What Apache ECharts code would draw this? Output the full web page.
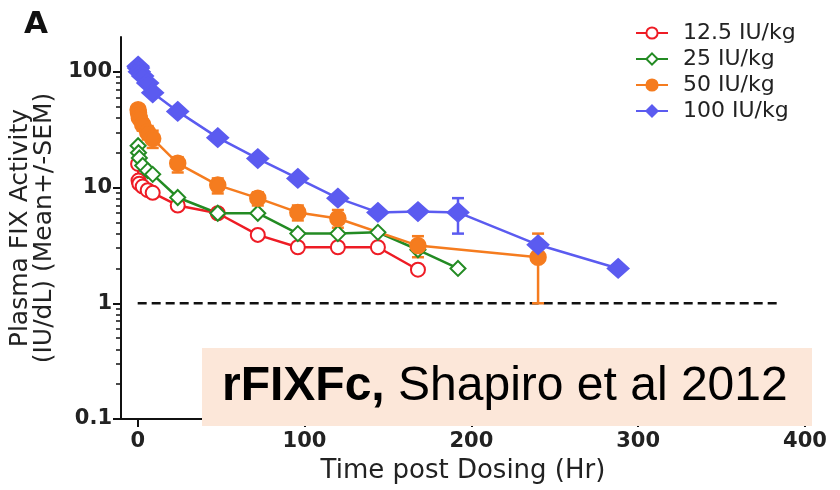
<!DOCTYPE html>
<html>
<head>
<meta charset="utf-8">
<script src="https://cdn.jsdelivr.net/npm/echarts@6/dist/echarts.min.js"></script>
<style>
  html, body { margin: 0; padding: 0; background: #fff; }
  #main { width: 840px; height: 490px; }
</style>
</head>
<body>
<div id="main"></div>
<script>
// 剂量组
const doseNames = ['12.5 IU/kg', '25 IU/kg', '50 IU/kg', '100 IU/kg']

// 12.5 IU/kg
const redTimes = [0.25, 0.5, 1, 3, 6, 9, 24, 48, 72, 96, 120, 144, 168]
const redValues = [16, 11.5, 10.8, 10.2, 9.5, 9, 7, 6, 3.9, 3.05, 3.05, 3.05, 1.95]

// 25 IU/kg
const greenTimes = [0.25, 0.5, 1, 3, 6, 9, 24, 48, 72, 96, 120, 144, 168, 192]
const greenValues = [23, 20, 18, 15.5, 14, 13, 8.2, 6, 6, 4, 4, 4.1, 2.9, 2]

// 50 IU/kg (带误差)
const orangeTimes = [0.25, 0.5, 1, 3, 6, 9, 24, 48, 72, 96, 120, 168, 240]
const orangeValues = [47, 44, 40, 35, 30, 26.5, 16.2, 10.5, 8.1, 6.1, 5.4, 3.15, 2.5]
const orangeLow = [44, 41, 36, 31, 26, 22, 13.5, 8.9, 7.0, 5.2, 4.5, 2.5, 1.0]
const orangeHigh = [50, 47, 44, 39, 34, 31, 18.3, 12, 9.1, 7.0, 6.4, 3.8, 4.0]

// 100 IU/kg
const blueTimes = [0.25, 0.5, 1, 3, 6, 9, 24, 48, 72, 96, 120, 144, 168, 192, 240, 288]
const blueValues = [112, 108, 100, 92, 80, 66, 45.5, 27, 17.8, 12, 8.1, 6.1, 6.2, 6.1, 3.2, 2.0]
const blueErrTimes = [192]
const blueErrLow = [4.0]
const blueErrHigh = [8.1]

// 1 IU/dL 参考线
const refTimes = [0, 384]
const refValues = [1, 1]

// 刻度
const xTicks = [0, 100, 200, 300, 400]
const yTicks = [0.1, 1, 10, 100]
const yMinorTicks = [0.2, 0.3, 0.4, 0.5, 0.6, 0.7, 0.8, 0.9, 2, 3, 4, 5, 6, 7, 8, 9, 20, 30, 40, 50, 60, 70, 80, 90]

const colors = ['#EE1C25', '#238B23', '#F57C1F', '#5B5BF0']
const font = 'DejaVu Sans'

const pairs = (xs, ys) => xs.map((x, i) => [x, ys[i]])
const triples = (xs, lo, hi) => xs.map((x, i) => [x, lo[i], hi[i]])

// 误差线
const errorBar = (color) => (params, api) => {
  const x = api.value(0)
  const lo = api.coord([x, api.value(1)])
  const hi = api.coord([x, api.value(2)])
  const w = 6
  const style = { stroke: color, lineWidth: 2.5 }
  return {
    type: 'group',
    children: [
      { type: 'line', shape: { x1: lo[0], y1: lo[1], x2: hi[0], y2: hi[1] }, style },
      { type: 'line', shape: { x1: hi[0] - w, y1: hi[1], x2: hi[0] + w, y2: hi[1] }, style },
      { type: 'line', shape: { x1: lo[0] - w, y1: lo[1], x2: lo[0] + w, y2: lo[1] }, style }
    ]
  }
}

const lineSeries = (i, times, values, symbol, size) => ({
  name: doseNames[i],
  type: 'line',
  data: pairs(times, values),
  symbol: symbol,
  symbolSize: size,
  color: colors[i],
  lineStyle: { width: 2.5, color: colors[i] },
  itemStyle: { color: colors[i], borderColor: colors[i], borderWidth: 2.5 },
  z: 3
})

const chartBox = echarts.init(document.getElementById('main'))
const option = {
  animation: false,
  backgroundColor: '#fff',
  grid: { left: 121, right: 35, top: 37, bottom: 71, outerBoundsMode: 'none' },
  legend: {
    data: doseNames,
    orient: 'vertical',
    left: 630,
    top: 17,
    itemWidth: 32,
    itemHeight: 14,
    itemGap: 4,
    textStyle: { fontFamily: font, fontSize: 22, color: '#222', lineHeight: 22, padding: [0, 0, 0, 10] }
  },
  xAxis: {
    type: 'value',
    min: -10,
    max: 400,
    name: 'Time post Dosing (Hr)',
    nameLocation: 'middle',
    nameGap: 39,
    nameTextStyle: { fontFamily: font, fontSize: 26, color: '#222' },
    splitLine: { show: false },
    axisLine: { show: true, onZero: false, lineStyle: { color: '#111', width: 2 } },
    axisTick: { show: true, length: 8, lineStyle: { color: '#111', width: 2 }, customValues: xTicks },
    axisLabel: { fontFamily: font, fontSize: 21, fontWeight: 'bold', color: '#222', margin: 12, customValues: xTicks }
  },
  yAxis: [
    {
      type: 'log',
      min: 0.1,
      max: 200,
      name: 'Plasma FIX Activity\n(IU/dL) (Mean+/-SEM)',
      nameLocation: 'middle',
      nameGap: 59,
      nameTextStyle: { fontFamily: font, fontSize: 25, lineHeight: 24, color: '#222' },
      splitLine: { show: false },
      axisLine: { show: true, onZero: false, lineStyle: { color: '#111', width: 2 } },
      axisTick: { show: true, length: 8, lineStyle: { color: '#111', width: 2 }, customValues: yTicks },
      axisLabel: {
        fontFamily: font, fontSize: 21, fontWeight: 'bold', color: '#222', margin: 9,
        customValues: yTicks,
        formatter: (v) => String(v)
      }
    },
    {
      // 次刻度
      type: 'log',
      min: 0.1,
      max: 200,
      position: 'left',
      splitLine: { show: false },
      axisLine: { show: false, onZero: false },
      axisLabel: { show: false },
      axisTick: { show: true, length: 5, lineStyle: { color: '#111', width: 1.5 }, customValues: yMinorTicks }
    }
  ],
  series: [
    {
      name: 'ref',
      type: 'line',
      data: pairs(refTimes, refValues),
      showSymbol: false,
      symbol: 'none',
      lineStyle: { color: '#111', width: 2.5, type: [9, 5] },
      z: 1
    },
    {
      name: 'err50',
      type: 'custom',
      renderItem: errorBar(colors[2]),
      data: triples(orangeTimes, orangeLow, orangeHigh),
      encode: { x: 0, y: [1, 2] },
      z: 2
    },
    {
      name: 'err100',
      type: 'custom',
      renderItem: errorBar(colors[3]),
      data: triples(blueErrTimes, blueErrLow, blueErrHigh),
      encode: { x: 0, y: [1, 2] },
      z: 2
    },
    lineSeries(0, redTimes, redValues, 'emptyCircle', 14),
    lineSeries(1, greenTimes, greenValues, 'emptyDiamond', [15, 15]),
    lineSeries(2, orangeTimes, orangeValues, 'circle', 15),
    lineSeries(3, blueTimes, blueValues, 'diamond', [20, 18])
  ],
  graphic: [
    {
      type: 'text',
      left: 24,
      top: 9,
      style: { text: 'A', fontFamily: font, fontSize: 31, fontWeight: 'bold', fill: '#111' }
    },
    {
      type: 'rect',
      left: 202,
      top: 348,
      shape: { width: 610, height: 78 },
      style: { fill: '#FCE7D9' },
      z: 100
    },
    {
      type: 'text',
      left: 222,
      top: 363,
      z: 101,
      style: {
        text: '{b|rFIXFc,}{n| Shapiro et al 2012}',
        rich: {
          b: { fontFamily: 'Liberation Sans', fontSize: 48, fontWeight: 'bold', fill: '#000' },
          n: { fontFamily: 'Liberation Sans', fontSize: 48, fill: '#000' }
        }
      }
    }
  ]
}
chartBox.setOption(option)
</script>
</body>
</html>
